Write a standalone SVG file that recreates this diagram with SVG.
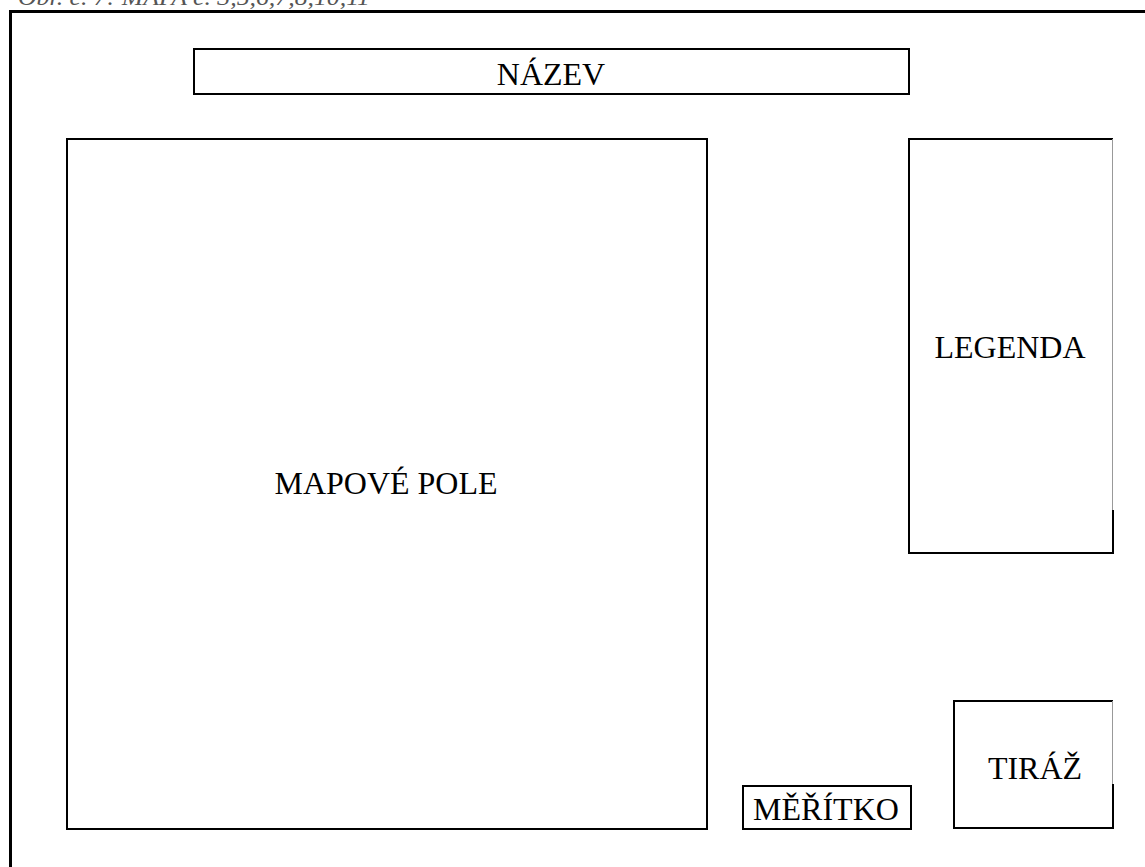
<svg xmlns="http://www.w3.org/2000/svg" width="1145" height="867" viewBox="0 0 1145 867">
<style>
.box{fill:#fff;stroke:#000;stroke-width:2}
.lbl{font-family:"Liberation Serif","Times New Roman",serif;font-size:32px;fill:#000;text-anchor:middle}
.cap{font-family:"Liberation Serif","Times New Roman",serif;font-size:24px;fill:#555;font-style:italic}
</style>
<rect x="0" y="0" width="1145" height="867" fill="#fff"/>
<text class="cap" x="18" y="5" textLength="352" lengthAdjust="spacingAndGlyphs">Obr. č. 7: MAPA č. 3,5,6,7,8,10,11</text>
<path d="M10.5,870 V11.5 H1150" fill="none" stroke="#000" stroke-width="3"/>
<g id="nazev">
<rect class="box" x="194" y="49" width="715" height="45" stroke-width="2.5"/>
<text class="lbl" x="551" y="85">NÁZEV</text>
</g>
<g id="mapove-pole">
<rect class="box" x="67" y="139" width="640" height="690"/>
<text class="lbl" x="386" y="494">MAPOVÉ POLE</text>
</g>
<g id="legenda">
<path d="M1113,139 H909 V553 H1113" fill="none" stroke="#000" stroke-width="2"/>
<line x1="1112.5" y1="139" x2="1112.5" y2="510" stroke="#999" stroke-width="1"/>
<line x1="1113" y1="510" x2="1113" y2="554" stroke="#000" stroke-width="2"/>
<text class="lbl" x="1010" y="358">LEGENDA</text>
</g>
<g id="tiraz">
<path d="M1113,701 H954 V828 H1113" fill="none" stroke="#000" stroke-width="2"/>
<line x1="1112.5" y1="701" x2="1112.5" y2="784" stroke="#999" stroke-width="1"/>
<line x1="1113" y1="784" x2="1113" y2="829" stroke="#000" stroke-width="2"/>
<text class="lbl" x="1035" y="779">TIRÁŽ</text>
</g>
<g id="meritko">
<rect class="box" x="743" y="786" width="168" height="43" stroke-width="2.5"/>
<text class="lbl" x="826" y="820">MĚŘÍTKO</text>
</g>
<g id="connectors"></g>
</svg>
